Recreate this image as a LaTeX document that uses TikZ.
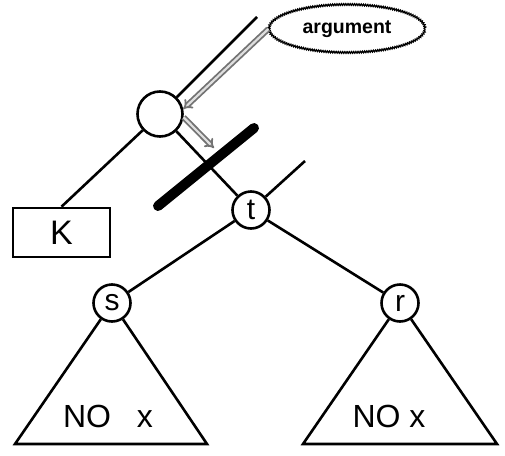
\documentclass[tikz,border=0pt]{standalone}
\usepackage{fontspec}
\setmainfont{Liberation Sans}
\usepackage{tikz}
\usetikzlibrary{positioning,arrows.meta,shapes.geometric,decorations.pathmorphing}

\begin{document}
\begin{tikzpicture}[
            x=1pt, y=-1pt,
            edge/.style={line width=2.6pt, line join=miter},
            vert/.style={circle, draw, line width=2.6pt, fill=white, inner sep=0pt,
                        minimum size=37pt, font=\fontsize{30}{32}\selectfont},
            leaf/.style={rectangle, draw, line width=2.6pt, minimum width=97pt,
                        minimum height=49pt, font=\fontsize{34}{36}\selectfont},
            note/.style={ellipse, draw, line width=1.3pt, minimum width=156pt, minimum height=48pt,
                        inner sep=0pt, decorate, decoration={snake, amplitude=0.8pt, segment length=2.2pt},
                        font=\fontsize{19.5}{21}\selectfont\bfseries},
            ptr/.style={draw=gray!90!black, double=gray!25, double distance=2.2pt, line width=1.8pt,
                        -{Implies[scale=1.3]}},
            cut/.style={line width=10pt, line cap=round},
            tag/.style={font=\fontsize{32}{34}\selectfont}
        ]
            \useasboundingbox (0,0) rectangle (505,455);

            \node[vert, minimum size=45pt] (root) at (160,114) {};
            \node[vert] (t) at (251,210) {t};
            \node[vert] (s) at (112,303) {s};
            \node[vert] (r) at (400,303) {r};
            \node[leaf] (kbox) at (61.5,232.5) {K};
            \node[note] (arg) at (347,29) {argument};

            \coordinate (rootup) at (257,17);
            \coordinate (tup) at (305,161);
            \coordinate (sl) at (15,444);
            \coordinate (sr) at (207,444);
            \coordinate (rl) at (303,444);
            \coordinate (rr) at (497,444);
            \coordinate (cuta) at (158,206);
            \coordinate (cutb) at (254,128);
            \coordinate (cutmark) at (214,148);

            \draw[edge] (root) -- (rootup);
            \draw[edge] (root) -- (kbox.north);
            \draw[edge] (root) -- (t);
            \draw[edge] (t) -- (tup);
            \draw[edge] (t) -- (s);
            \draw[edge] (t) -- (r);
            \draw[edge] (s) -- (sl) -- (sr) -- (s);
            \draw[edge] (r) -- (rl) -- (rr) -- (r);

            \draw[cut] (cuta) -- (cutb);
            \draw[ptr] (arg.west) -- (root.12);
            \draw[ptr] (root.-8) -- (cutmark);

            \node[tag] (snote) at (108,416) {NO\hspace{26pt}x};
            \node[tag] (rnote) at (389,416) {NO x};
        \end{tikzpicture}
\end{document}
